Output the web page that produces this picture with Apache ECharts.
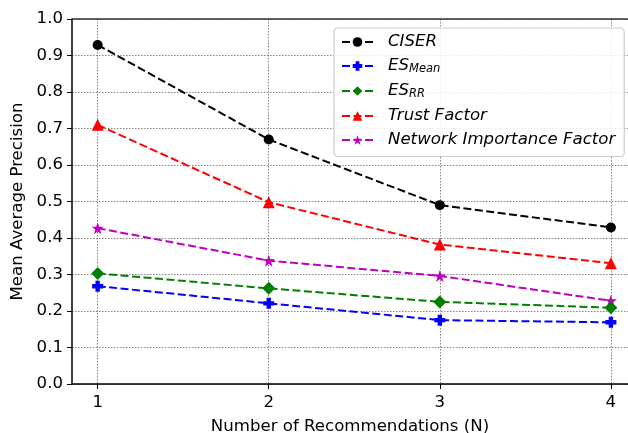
<!DOCTYPE html>
<html>
<head>
<meta charset="utf-8">
<script src="https://cdn.jsdelivr.net/npm/echarts@6/dist/echarts.min.js"></script>
<style>html,body{margin:0;padding:0;background:#fff}#c{width:628px;height:433px}</style>
</head>
<body>
<div id="c"></div>
<script>
// ---- data ----
const nValues = [1, 2, 3, 4];
const ciser   = [0.929, 0.670, 0.490, 0.429];
const esMean  = [0.268, 0.221, 0.175, 0.169];
const esRR    = [0.303, 0.262, 0.225, 0.209];
const trust   = [0.710, 0.498, 0.382, 0.331];
const nif     = [0.427, 0.338, 0.296, 0.228];

const FONT = 'DejaVu Sans';
const FS = 16.6;
const plusPath = 'path://M-2,-5H2V-2H5V2H2V5H-2V2H-5V-2H-2Z';
function starPath() {
  let d = '';
  for (let i = 0; i < 10; i++) {
    const r = i % 2 === 0 ? 10 : 4;
    const a = -Math.PI / 2 + i * Math.PI / 5;
    d += (i === 0 ? 'M' : 'L') + (r * Math.cos(a)).toFixed(3) + ',' + (r * Math.sin(a)).toFixed(3);
  }
  return 'path://' + d + 'Z';
}
const pairs = arr => nValues.map((x, i) => [x, arr[i]]);

const seriesDefs = [
  {name: 'CISER', data: ciser, color: '#000000', symbol: 'circle', size: 10},
  {name: 'ESMean', data: esMean, color: '#0000ff', symbol: plusPath, size: 11},
  {name: 'ESRR', data: esRR, color: '#008000', symbol: 'diamond', size: 13},
  {name: 'Trust Factor', data: trust, color: '#ff0000', symbol: 'triangle', size: 12},
  {name: 'Network Importance Factor', data: nif, color: '#bf00bf', symbol: starPath(), size: 12}
];

const series = seriesDefs.map((s, idx) => ({
  name: s.name,
  type: 'line',
  data: pairs(s.data),
  symbol: s.symbol,
  symbolSize: s.size,
  showAllSymbol: true,
  color: s.color,
  itemStyle: {color: s.color},
  lineStyle: {color: s.color, width: 2, type: [8, 3.5]},
  z: 10 - idx,
  animation: false,
  markLine: idx === 0 ? {
    silent: true, symbol: 'none', label: {show: false},
    lineStyle: {color: '#333', type: 'solid', width: 1.5},
    data: [{yAxis: 1}]
  } : undefined
}));

const chart = echarts.init(document.getElementById('c'), null, {renderer: 'canvas'});
chart.setOption({
  animation: false,
  backgroundColor: '#fff',
  grid: {left: 72, top: 19, right: 0, bottom: 49, containLabel: false, outerBoundsMode: 'none'},
  xAxis: {
    type: 'value', min: 0.85, max: 4.1,
    name: 'Number of Recommendations (N)',
    nameLocation: 'middle', nameGap: 34,
    nameTextStyle: {fontFamily: FONT, fontSize: FS, color: '#000'},
    axisLine: {show: true, lineStyle: {color: '#000', width: 1.5}},
    axisTick: {show: true, length: 5, lineStyle: {color: '#000', width: 1}, customValues: nValues},
    axisLabel: {fontFamily: FONT, fontSize: FS, color: '#000', margin: 10, customValues: nValues, formatter: v => String(v)},
    splitLine: {show: true, lineStyle: {color: '#666', type: [1.5, 1.5], width: 0.8}}
  },
  yAxis: {
    type: 'value', min: 0, max: 1, interval: 0.1,
    name: 'Mean Average Precision',
    nameLocation: 'middle', nameGap: 44,
    nameTextStyle: {fontFamily: FONT, fontSize: FS, color: '#000'},
    axisLine: {show: true, lineStyle: {color: '#000', width: 1.5}},
    axisTick: {show: true, length: 5, lineStyle: {color: '#000', width: 1}},
    axisLabel: {fontFamily: FONT, fontSize: FS, color: '#000', margin: 9, formatter: v => v.toFixed(1)},
    splitLine: {show: true, lineStyle: {color: '#666', type: [1.5, 1.5], width: 0.8}}
  },
  legend: {
    left: 334, top: 28,
    orient: 'vertical',
    backgroundColor: 'rgba(255,255,255,0.85)',
    borderColor: '#ccc', borderWidth: 1.2, borderRadius: 4,
    padding: [5.5, 9, 8, 7],
    itemWidth: 31, itemHeight: 12, itemGap: 7,
    data: seriesDefs.map(s => s.name),
    formatter: name => {
      if (name === 'ESMean') return '{m|ES}{s|Mean}';
      if (name === 'ESRR') return '{m|ES}{s|RR}';
      return '{m|' + name + '}';
    },
    textStyle: {
      fontFamily: FONT, fontSize: FS, fontStyle: 'italic', color: '#000', padding: [0, 0, 0, 10],
      rich: {
        m: {fontFamily: FONT, fontSize: FS, fontStyle: 'italic', color: '#000'},
        s: {fontFamily: FONT, fontSize: 11.5, fontStyle: 'italic', color: '#000', verticalAlign: 'bottom', padding: [7, 0, 0, 0]}
      }
    }
  },
  series: series
});
</script>
</body>
</html>
